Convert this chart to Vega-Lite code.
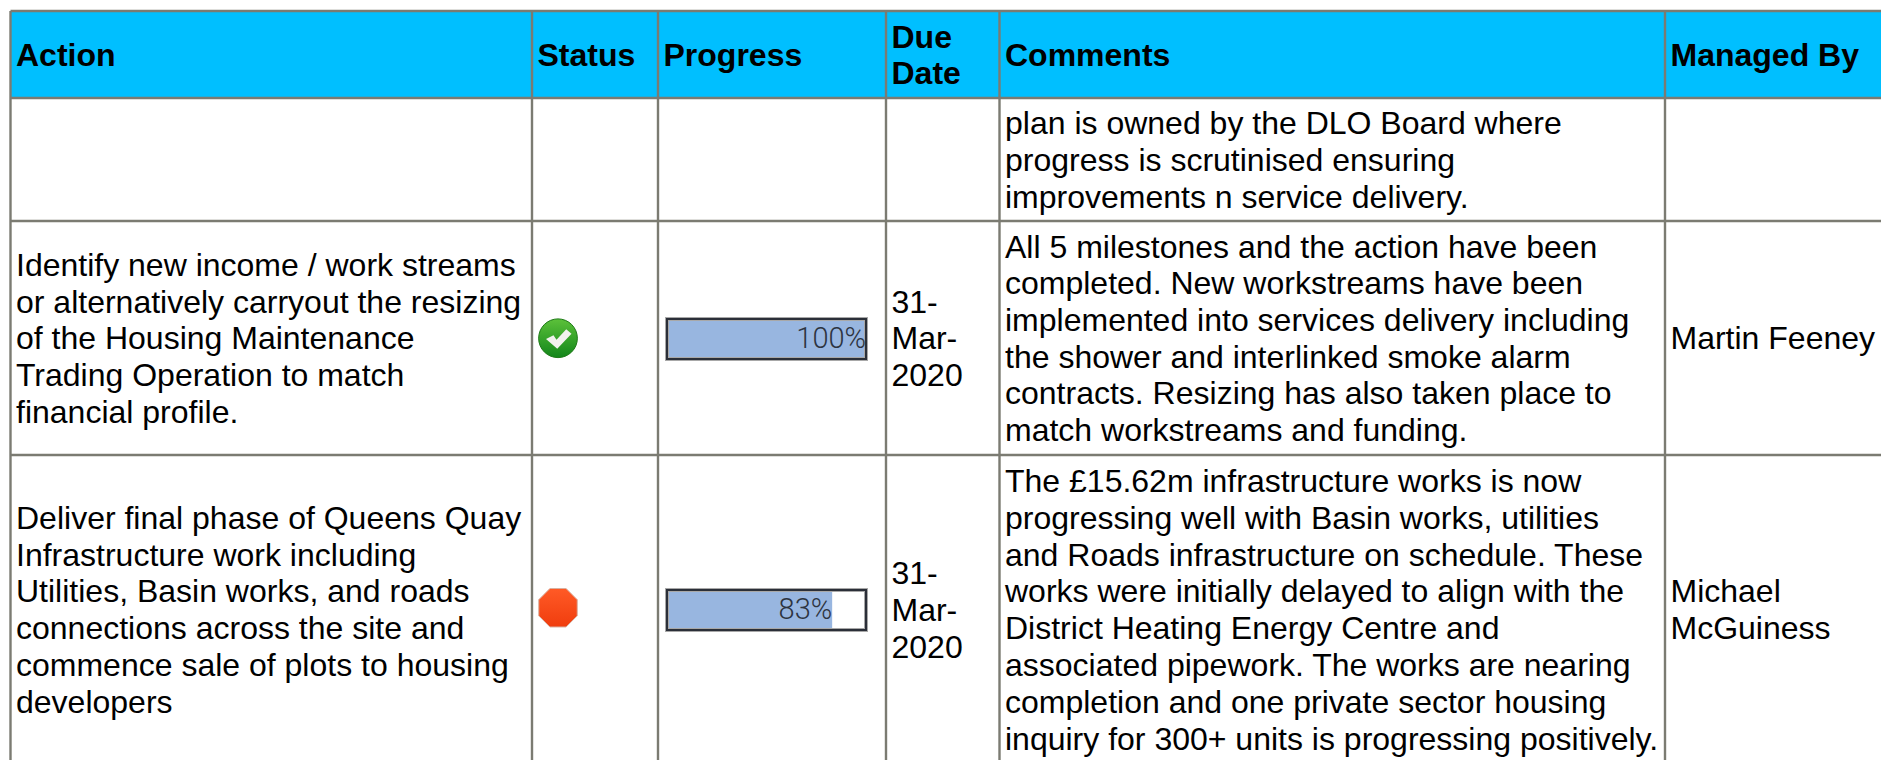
{
"$schema":"https://vega.github.io/schema/vega-lite/v6.json",
"width":1881,"height":760,"padding":0,"autosize":{"type":"none"},
"background":"white",
"config":{"view":{"stroke":null}},
"datasets":{
"cells":[
{"col":0,"line":-0.5,"head":true,"text":"Action"},
{"col":1,"line":-0.5,"head":true,"text":"Status"},
{"col":2,"line":-0.5,"head":true,"text":"Progress"},
{"col":3,"line":-1,"head":true,"text":"Due"},
{"col":3,"line":0,"head":true,"text":"Date"},
{"col":4,"line":-0.5,"head":true,"text":"Comments"},
{"col":5,"line":-0.5,"head":true,"text":"Managed By"},
{"col":4,"line":1,"head":false,"text":"plan is owned by the DLO Board where"},
{"col":4,"line":2,"head":false,"text":"progress is scrutinised ensuring"},
{"col":4,"line":3,"head":false,"text":"improvements n service delivery."},
{"col":0,"line":4.5,"head":false,"text":"Identify new income / work streams"},
{"col":0,"line":5.5,"head":false,"text":"or alternatively carryout the resizing"},
{"col":0,"line":6.5,"head":false,"text":"of the Housing Maintenance"},
{"col":0,"line":7.5,"head":false,"text":"Trading Operation to match"},
{"col":0,"line":8.5,"head":false,"text":"financial profile."},
{"col":3,"line":5.5,"head":false,"text":"31-"},
{"col":3,"line":6.5,"head":false,"text":"Mar-"},
{"col":3,"line":7.5,"head":false,"text":"2020"},
{"col":4,"line":4,"head":false,"text":"All 5 milestones and the action have been"},
{"col":4,"line":5,"head":false,"text":"completed. New workstreams have been"},
{"col":4,"line":6,"head":false,"text":"implemented into services delivery including"},
{"col":4,"line":7,"head":false,"text":"the shower and interlinked smoke alarm"},
{"col":4,"line":8,"head":false,"text":"contracts. Resizing has also taken place to"},
{"col":4,"line":9,"head":false,"text":"match workstreams and funding."},
{"col":5,"line":6.5,"head":false,"text":"Martin Feeney"},
{"col":0,"line":11,"head":false,"text":"Deliver final phase of Queens Quay"},
{"col":0,"line":12,"head":false,"text":"Infrastructure work including"},
{"col":0,"line":13,"head":false,"text":"Utilities, Basin works, and roads"},
{"col":0,"line":14,"head":false,"text":"connections across the site and"},
{"col":0,"line":15,"head":false,"text":"commence sale of plots to housing"},
{"col":0,"line":16,"head":false,"text":"developers"},
{"col":3,"line":12.5,"head":false,"text":"31-"},
{"col":3,"line":13.5,"head":false,"text":"Mar-"},
{"col":3,"line":14.5,"head":false,"text":"2020"},
{"col":4,"line":10,"head":false,"text":"The £15.62m infrastructure works is now"},
{"col":4,"line":11,"head":false,"text":"progressing well with Basin works, utilities"},
{"col":4,"line":12,"head":false,"text":"and Roads infrastructure on schedule. These"},
{"col":4,"line":13,"head":false,"text":"works were initially delayed to align with the"},
{"col":4,"line":14,"head":false,"text":"District Heating Energy Centre and"},
{"col":4,"line":15,"head":false,"text":"associated pipework. The works are nearing"},
{"col":4,"line":16,"head":false,"text":"completion and one private sector housing"},
{"col":4,"line":17,"head":false,"text":"inquiry for 300+ units is progressing positively."},
{"col":5,"line":13,"head":false,"text":"Michael"},
{"col":5,"line":14,"head":false,"text":"McGuiness"}
],
"actions":[
{"action":"Identify new income","line":6.5,"status":"complete","progress":100,"label":"100%"},
{"action":"Queens Quay","line":13.5,"status":"late","progress":83,"label":"83%"}
],
"columns":[{"col":0},{"col":1},{"col":2},{"col":3},{"col":4},{"col":5}],
"rows":[{"line":-2},{"line":0.5},{"line":3.5},{"line":9.5}]
},
"resolve":{"scale":{"x":"independent","y":"independent"}},
"layer":[
{"layer":[
{"data":{"values":[{"a":1}]},"mark":{"type":"rect","fill":"#00BFFF"},
 "encoding":{"x":{"datum":0,"type":"quantitative","axis":null,"scale":{"domain":[0,1,2,3,4,5,6],"range":[10.5,532,658,886,999.5,1665,1881]}},"x2":{"datum":6},
 "y":{"datum":-2,"type":"quantitative","axis":null,"scale":{"domain":[-2,-1,0,0.5,1,3,3.5,4,9,9.5,10,17,18],"range":[11,38,74,98,124,198,221,247.5,431,455,482,739.5,777]}},"y2":{"datum":0.5}}},
{"data":{"name":"columns"},"mark":{"type":"rule","stroke":"#7B7B72","strokeWidth":2.4},
 "encoding":{"x":{"field":"col","type":"quantitative"},"y":{"datum":-2,"type":"quantitative"},"y2":{"datum":18}}},
{"data":{"name":"rows"},"mark":{"type":"rule","stroke":"#7B7B72","strokeWidth":2.4},
 "encoding":{"y":{"field":"line","type":"quantitative"},"x":{"datum":0,"type":"quantitative"},"x2":{"datum":6}}},
{"data":{"name":"cells"},"transform":[{"filter":"datum.head"}],
 "mark":{"type":"text","align":"left","baseline":"middle","dx":5.5,"font":"Liberation Sans","fontWeight":"bold","fontSize":32,"fill":"#000"},
 "encoding":{"x":{"field":"col","type":"quantitative"},"y":{"field":"line","type":"quantitative"},"text":{"field":"text"}}},
{"data":{"name":"cells"},"transform":[{"filter":"!datum.head"}],
 "mark":{"type":"text","align":"left","baseline":"middle","dx":5.5,"font":"Liberation Sans","fontSize":32,"fill":"#000"},
 "encoding":{"x":{"field":"col","type":"quantitative"},"y":{"field":"line","type":"quantitative"},"text":{"field":"text"}}},
{"data":{"name":"actions"},"transform":[{"filter":"datum.status==='complete'"}],
 "mark":{"type":"point","shape":"circle","filled":true,"size":1500,"xOffset":26,"yOffset":-1,"opacity":1,"stroke":"#1d7a16","strokeWidth":1,
  "fill":{"gradient":"linear","x1":0,"y1":0,"x2":0,"y2":1,"stops":[{"offset":0,"color":"#5cc13a"},{"offset":1,"color":"#12861a"}]}},
 "encoding":{"x":{"datum":1,"type":"quantitative"},"y":{"field":"line","type":"quantitative"}}},
{"data":{"name":"actions"},"transform":[{"filter":"datum.status==='complete'"}],
 "mark":{"type":"point","shape":"M-0.8 0.05L-0.3 -0.2L-0.1 0.1L0.55 -0.6L0.9 -0.3L-0.05 0.7Z","filled":true,"size":900,"xOffset":26,"yOffset":-1,"opacity":1,"fill":"#f2f2ee"},
 "encoding":{"x":{"datum":1,"type":"quantitative"},"y":{"field":"line","type":"quantitative"}}},
{"data":{"name":"actions"},"transform":[{"filter":"datum.status==='late'"}],
 "mark":{"type":"point","shape":"M-0.42 -1L0.42 -1L1 -0.42L1 0.42L0.42 1L-0.42 1L-1 0.42L-1 -0.42Z","filled":true,"size":1480,"xOffset":26,"yOffset":-3,"opacity":1,"stroke":"#d8b0a0","strokeWidth":1,
  "fill":{"gradient":"linear","x1":0,"y1":0,"x2":0,"y2":1,"stops":[{"offset":0,"color":"#FF5A26"},{"offset":1,"color":"#F03D0E"}]}},
 "encoding":{"x":{"datum":1,"type":"quantitative"},"y":{"field":"line","type":"quantitative"}}}
]},
{"data":{"name":"actions"},
 "encoding":{"y":{"field":"action","type":"nominal","axis":null,"sort":null,"scale":{"type":"band","domain":["Identify new income","Queens Quay"],"range":[319,630],"paddingInner":0.852,"paddingOuter":0}}},
 "layer":[
 {"mark":{"type":"bar","fill":"#98B6E0"},
  "encoding":{"x":{"field":"progress","type":"quantitative","stack":null,"axis":null,"scale":{"domain":[0,100],"range":[667,866]}}}},
 {"mark":{"type":"bar","fillOpacity":0,"stroke":"#A8A8A8","strokeWidth":4},
  "encoding":{"x":{"datum":100,"type":"quantitative"}}},
 {"mark":{"type":"bar","fillOpacity":0,"stroke":"#2B2F38","strokeWidth":2},
  "encoding":{"x":{"datum":100,"type":"quantitative"}}},
 {"mark":{"type":"text","align":"right","baseline":"middle","dx":0,"font":"Roboto","fontSize":29,"fontWeight":300,"fill":"#2D3440"},
  "encoding":{"x":{"field":"progress","type":"quantitative"},"text":{"field":"label"}}}
 ]}
]}
